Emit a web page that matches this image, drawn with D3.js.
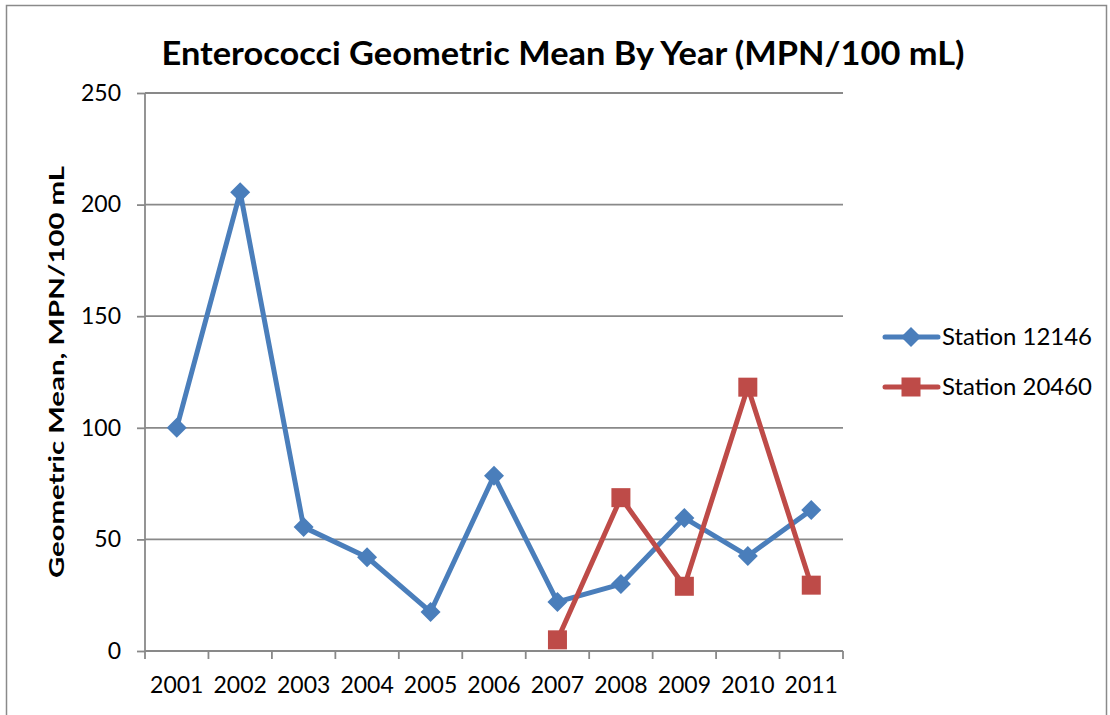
<!DOCTYPE html>
<html><head><meta charset="utf-8">
<script src="https://cdn.jsdelivr.net/npm/d3@7"></script>
<style>body{margin:0;background:#fff}svg{display:block}text{font-family:Lato,"Open Sans",sans-serif}</style>
</head><body>
<script>
const years = ["2001","2002","2003","2004","2005","2006","2007","2008","2009","2010","2011"];
const station12146 = [100, 205.5, 55.5, 42, 17.5, 78.5, 22, 30, 59.6, 42.6, 63.2];
const station20460 = [null, null, null, null, null, null, 5, 68.7, 29, 118.2, 29.5];
const yTicks = [0, 50, 100, 150, 200, 250];
const seriesNames = ["Station 12146", "Station 20460"];
const colors = ["#4A7EBB", "#BE4B48"];

const W = 1110, H = 715;
const svg = d3.select("body").append("svg").attr("width", W).attr("height", H);
svg.append("rect").attr("x", 6.5).attr("y", 5.5).attr("width", 1100).attr("height", 740)
  .attr("fill", "none").attr("stroke", "#8a8a8a").attr("stroke-width", 1.5);

const x = d3.scaleBand().domain(years).range([145, 843]).padding(0);
const y = d3.scaleLinear().domain([0, 250]).range([651, 93]);
const cx = d => x(d) + x.bandwidth() / 2;

// gridlines
svg.append("g").selectAll("line").data(yTicks.filter(t => t > 0)).join("line")
  .attr("x1", 145).attr("x2", 843).attr("y1", d => y(d)).attr("y2", d => y(d))
  .attr("stroke", "#898989").attr("stroke-width", 1.8);

// y axis
const yAxis = svg.append("g").attr("transform", "translate(145,0)")
  .call(d3.axisLeft(y).tickValues(yTicks).tickSize(8).tickPadding(16).tickFormat(d3.format("d")));
yAxis.select(".domain").attr("stroke", "#898989").attr("stroke-width", 1.8).attr("d", `M0,${y(0)}V${y(250)}`);
yAxis.selectAll(".tick line").attr("stroke", "#898989").attr("stroke-width", 1.8);
yAxis.selectAll(".tick text").attr("font-size", 23).attr("fill", "#000").attr("font-family", "Lato");

// x axis
const xAxis = svg.append("g").attr("transform", `translate(0,${y(0)})`)
  .call(d3.axisBottom(x).tickSize(0).tickPadding(26));
xAxis.select(".domain").attr("stroke", "#898989").attr("stroke-width", 1.8).attr("d", "M145,0H843");
xAxis.selectAll(".tick text").attr("font-size", 23).attr("fill", "#000").attr("font-family", "Lato").attr("dy", "0.71em");
svg.append("g").selectAll("line").data(years.concat(["end"])).join("line")
  .attr("x1", (d, i) => 145 + i * x.bandwidth()).attr("x2", (d, i) => 145 + i * x.bandwidth())
  .attr("y1", y(0)).attr("y2", y(0) + 8).attr("stroke", "#898989").attr("stroke-width", 1.8);

// series
const line = d3.line().defined(d => d.v != null).x(d => cx(d.k)).y(d => y(d.v));
const data = [station12146, station20460].map(arr => years.map((k, i) => ({k, v: arr[i]})));
data.forEach((s, i) => {
  svg.append("path").datum(s).attr("d", line).attr("fill", "none")
    .attr("stroke", colors[i]).attr("stroke-width", 5).attr("stroke-linejoin", "round");
});
const diamond = (px, py, r) => `M${px},${py - r}L${px + r},${py}L${px},${py + r}L${px - r},${py}Z`;
svg.append("g").selectAll("path").data(data[0].filter(d => d.v != null)).join("path")
  .attr("d", d => diamond(cx(d.k), y(d.v), 10)).attr("fill", colors[0]);
svg.append("g").selectAll("rect").data(data[1].filter(d => d.v != null)).join("rect")
  .attr("x", d => cx(d.k) - 9.5).attr("y", d => y(d.v) - 9.5).attr("width", 19).attr("height", 19)
  .attr("fill", colors[1]);

// title
svg.append("text").attr("x", 563).attr("y", 65).attr("text-anchor", "middle")
  .attr("font-size", 32).attr("font-weight", "bold").attr("textLength", 803).attr("lengthAdjust", "spacingAndGlyphs")
  .text("Enterococci Geometric Mean By Year (MPN/100 mL)");

// y title
svg.append("text").attr("transform", "translate(64,372) rotate(-90)").attr("text-anchor", "middle")
  .attr("font-size", 21).attr("font-weight", "bold").attr("textLength", 412).attr("lengthAdjust", "spacingAndGlyphs")
  .text("Geometric Mean, MPN/100 mL");

// legend
seriesNames.forEach((n, i) => {
  const ly = 337 + i * 50;
  svg.append("line").attr("x1", 885).attr("x2", 938).attr("y1", ly).attr("y2", ly)
    .attr("stroke", colors[i]).attr("stroke-width", 5).attr("stroke-linecap", "round");
  if (i === 0) svg.append("path").attr("d", diamond(911, ly, 10)).attr("fill", colors[0]);
  else svg.append("rect").attr("x", 901.5).attr("y", ly - 9.5).attr("width", 19).attr("height", 19).attr("fill", colors[1]);
  svg.append("text").attr("x", 942).attr("y", ly + 8).attr("font-size", 23)
    .attr("textLength", 150).attr("lengthAdjust", "spacingAndGlyphs").text(n);
});
</script>
</body></html>
